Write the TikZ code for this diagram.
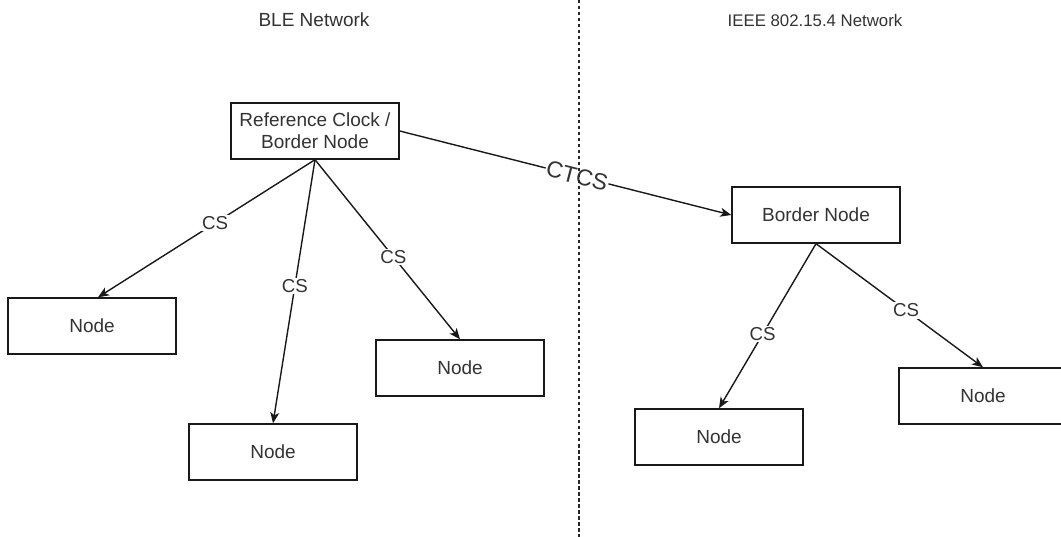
\documentclass[tikz,border=0pt]{standalone}
\usepackage{fontspec}
\setmainfont{Liberation Sans}
\usetikzlibrary{arrows.meta}

\begin{document}
\begin{tikzpicture}[x=1pt,y=-1pt,
  txt/.style={text=black!80},
  box/.style={draw=black!90, line width=1.4pt, minimum width=168pt, minimum height=56pt,
    inner sep=0pt, txt, font=\fontsize{19}{21.7}\selectfont, align=center},
  link/.style={draw=black!90, line width=1.4pt,
    -{Stealth[length=11pt,width=9pt,inset=3pt]}},
  lbl/.style={fill=white, inner sep=1.5pt, txt, font=\fontsize{18.7}{20}\selectfont},
  title/.style={txt, inner sep=0pt},
  divider/.style={draw=black!85, line width=1.2pt, dash pattern=on 3.5pt off 2.5pt}]

\path[use as bounding box, clip] (0,0) rectangle (1061,537);
\fill[white] (0,0) rectangle (1061,537);

% section headings
\node[title, font=\fontsize{19}{22}\selectfont] (bletitle) at (314,20) {BLE Network};
\node[title, font=\fontsize{16.8}{20}\selectfont] (ieeetitle) at (815,20) {IEEE 802.15.4 Network};

% BLE side
\node[box] (rc)   at (315,131) {Reference Clock /\\Border Node};
\node[box] (bleL) at (92,326)  {Node};
\node[box] (bleM) at (273,452) {Node};
\node[box] (bleR) at (460,368) {Node};

% IEEE 802.15.4 side
\node[box] (bn)  at (816,215) {Border Node};
\node[box] (ieL) at (719,437) {Node};
\node[box] (ieR) at (983,396) {Node};

% clock synchronisation links
\draw[link] (rc.south) -- node[lbl, pos=0.46] {CS} ([xshift=6pt]bleL.north);
\draw[link] (rc.south) -- node[lbl, pos=0.48] {CS} (bleM.north);
\draw[link] (rc.south) -- node[lbl, pos=0.54] {CS} (bleR.north);
\draw[link] (rc.east) -- node[lbl, pos=0.535, sloped, inner sep=1pt,
  font=\fontsize{23}{25}\selectfont] {CTCS} (bn.west);
\draw[link] (bn.south) -- node[lbl, pos=0.55] {CS} (ieL.north);
\draw[link] (bn.south) -- node[lbl, pos=0.54] {CS} (ieR.north);

% network boundary
\coordinate (dtop) at (579,0);
\coordinate (dbot) at (579,537);
\draw[divider] (dtop) -- (dbot);
\end{tikzpicture}
\end{document}
